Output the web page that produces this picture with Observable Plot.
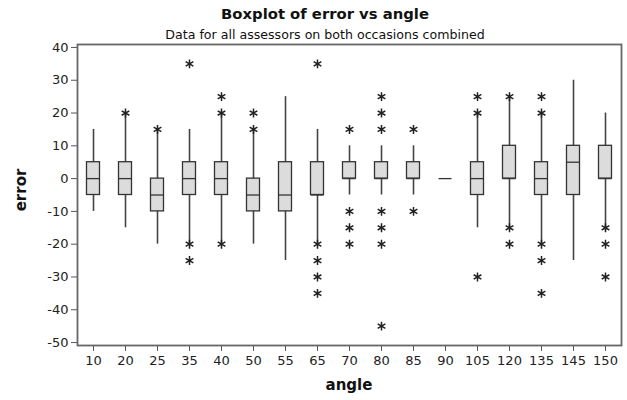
<!DOCTYPE html>
<html>
<head>
<meta charset="utf-8">
<script src="https://cdn.jsdelivr.net/npm/d3@7"></script>
<script src="https://cdn.jsdelivr.net/npm/@observablehq/plot@0.6"></script>
<style>
  body { margin: 0; background: #fff; }
  #wrap { position: relative; width: 627px; height: 400px; font-family: "DejaVu Sans", sans-serif; color: #111; }
  .t { position: absolute; line-height: 1; white-space: nowrap; }
  #title { left: 0; width: 650px; top: 7px; text-align: center; font-weight: bold; font-size: 14.8px; }
  #subtitle { left: 0; width: 650px; top: 29px; text-align: center; font-size: 12.6px; }
  #xlabel { left: 0; width: 698px; top: 378px; text-align: center; font-weight: bold; font-size: 15px; }
  #ylabel { left: 21px; top: 190px; font-weight: bold; font-size: 15px; transform: translate(-50%, -50%) rotate(-90deg); }
  #chart { position: absolute; left: 0; top: 0; }
</style>
</head>
<body>
<div id="wrap">
  <div id="chart"></div>
  <div class="t" id="title">Boxplot of error vs angle</div>
  <div class="t" id="subtitle">Data for all assessors on both occasions combined</div>
  <div class="t" id="xlabel">angle</div>
  <div class="t" id="ylabel">error</div>
</div>
<script>
// Categories
const angles = ["10","20","25","35","40","50","55","65","70","80","85","90","105","120","135","145","150"];
// Box statistics
const q1          = [-5, -5, -10, -5, -5, -10, -10, -5, 0, 0, 0, 0, -5, 0, -5, -5, 0];
const medians     = [ 0,  0,  -5,  0,  0,  -5,  -5, -5, 0, 0, 0, 0,  0, 0,  0,  5, 0];
const q3          = [ 5,  5,   0,  5,  5,   0,   5,  5, 5, 5, 5, 0,  5, 10, 5, 10, 10];
const whiskerLow  = [-10, -15, -20, -20, -20, -20, -25, -20, -5, -5, -5, 0, -15, -15, -20, -25, -15];
const whiskerHigh = [15, 20, 15, 15, 20, 15, 25, 15, 10, 10, 10, 0, 20, 25, 20, 30, 20];
// Outliers (asterisks)
const outlierAngles = ["20","25","35","35","35","40","40","40","50","50",
  "65","65","65","65","65","70","70","70","70",
  "80","80","80","80","80","80","80","85","85",
  "105","105","105","120","120","120","135","135","135","135","135","150","150","150"];
const outlierErrors = [20,15,35,-20,-25,25,20,-20,20,15,
  35,-20,-25,-30,-35,15,-10,-15,-20,
  25,20,15,-10,-15,-20,-45,15,-10,
  25,20,-30,25,-15,-20,25,20,-20,-25,-35,-15,-20,-30];
const yTicks = [40, 30, 20, 10, 0, -10, -20, -30, -40, -50];

const boxes = angles.map((a, i) => ({angle: a, q1: q1[i], med: medians[i], q3: q3[i], lo: whiskerLow[i], hi: whiskerHigh[i]}));
const outliers = outlierAngles.map((a, i) => ({angle: a, error: outlierErrors[i]}));

const chart = Plot.plot({
  width: 627,
  height: 400,
  marginTop: 44,
  marginBottom: 55,
  marginLeft: 77,
  marginRight: 6,
  style: {fontFamily: "DejaVu Sans, sans-serif", fontSize: "13px", color: "#222", background: "#fff"},
  x: {type: "band", domain: angles, padding: 0, label: null},
  y: {domain: [-50.9, 40.9], label: null},
  marks: [
    Plot.ruleX(boxes, {x: "angle", y1: "lo", y2: "hi", stroke: "#444", strokeWidth: 1.6}),
    Plot.barY(boxes, {x: "angle", y1: "q1", y2: "q3", fill: "#dcdcdc", stroke: "#333", strokeWidth: 1.3, insetLeft: 9.5, insetRight: 9.5}),
    Plot.tickY(boxes, {x: "angle", y: "med", stroke: "#333", strokeWidth: 1.3, insetLeft: 9.5, insetRight: 9.5}),
    Plot.dot(outliers, {x: "angle", y: "error", symbol: "asterisk", r: 4.2, stroke: "#222", strokeWidth: 1.5}),
    Plot.axisY({ticks: yTicks, tickFormat: d => String(d), tickSize: 6, tickPadding: 3, stroke: "#555", label: null}),
    Plot.axisX({tickSize: 6, tickPadding: 4, stroke: "#555", label: null}),
    Plot.frame({stroke: "#666", strokeWidth: 1.8})
  ]
});
document.getElementById("chart").appendChild(chart);
</script>
</body>
</html>
